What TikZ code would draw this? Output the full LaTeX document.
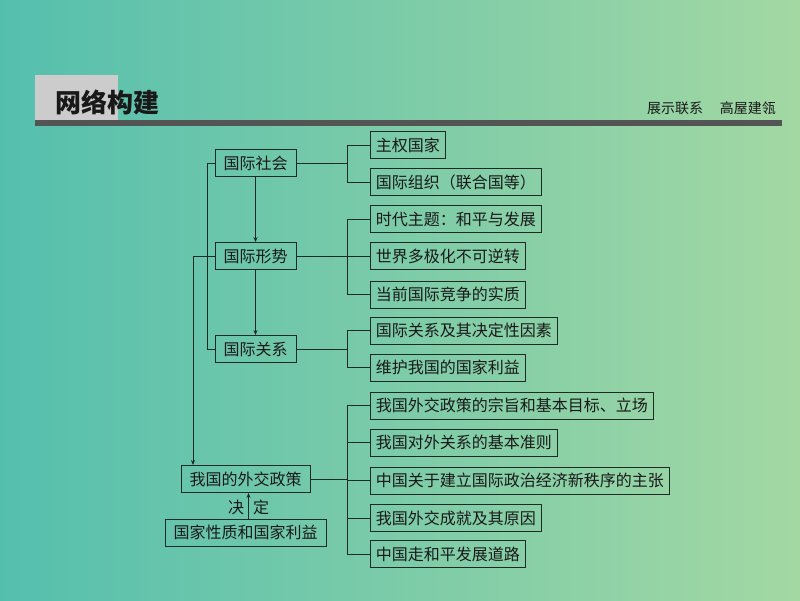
\documentclass[tikz,border=0pt]{standalone}
\usepackage{fontspec}
\newfontfamily\cjk{Noto Sans CJK SC}
\usetikzlibrary{arrows.meta}
\definecolor{bgl}{HTML}{55BFAE}
\definecolor{bgr}{HTML}{A3D8A3}
\definecolor{lnc}{HTML}{1E2A26}
\begin{document}
\begin{tikzpicture}[x=1pt,y=-1pt,
  lbox/.style={draw=lnc, line width=0.9pt, inner xsep=8.5pt, inner ysep=0pt, minimum height=27pt, font=\cjk\fontsize{16}{16}\selectfont, text=black!90},
  rbox/.style={draw=lnc, line width=0.9pt, inner xsep=5.5pt, inner ysep=0pt, minimum height=27pt, anchor=west, font=\cjk\fontsize{16}{16}\selectfont, text=black!90},
  conn/.style={draw=lnc, line width=0.8pt},
  arr/.style={conn, -{Stealth[length=5pt,width=4pt]}},
  lbl/.style={font=\cjk\fontsize{16}{16}\selectfont, text=black!90, inner sep=0pt}]
\useasboundingbox (0,0) rectangle (800,600);
\shade[left color=bgl, right color=bgr] (0,0) rectangle (800,600);
% header
\fill[black!20] (35,75) rectangle (118,120);
\fill[black!67] (35,120) rectangle (782,126);
\node[anchor=west, inner sep=0pt, font=\cjk\bfseries\fontsize{26}{26}\selectfont, text=black!90] (title) at (55,102) {网络构建};
\node[anchor=east, inner sep=0pt, font=\cjk\fontsize{14}{14}\selectfont, text=black!90] (sub) at (776,108) {展示联系\hspace{1.2em}高屋建瓴};
% left nodes
\node[lbox] (a) at (255.5,163) {国际社会};
\node[lbox] (b) at (255.5,256) {国际形势};
\node[lbox] (c) at (255.5,349) {国际关系};
\node[lbox] (d) at (245.5,479) {我国的外交政策};
\node[lbox] (e) at (245.5,532.5) {国家性质和国家利益};
\node[lbl] (j1) at (236,507) {决};
\node[lbl] (j2) at (261,507) {定};
% right nodes
\node[rbox] (a1) at (370,145) {主权国家};
\node[rbox] (a2) at (370,182) {国际组织（联合国等）};
\node[rbox] (b1) at (370,219) {时代主题：和平与发展};
\node[rbox] (b2) at (370,256) {世界多极化不可逆转};
\node[rbox] (b3) at (370,294.5) {当前国际竞争的实质};
\node[rbox] (c1) at (370,330.5) {国际关系及其决定性因素};
\node[rbox] (c2) at (370,367.5) {维护我国的国家利益};
\node[rbox] (d1) at (370,405.5) {我国外交政策的宗旨和基本目标、立场};
\node[rbox] (d2) at (370,442.5) {我国对外关系的基本准则};
\node[rbox] (d3) at (370,480.5) {中国关于建立国际政治经济新秩序的主张};
\node[rbox] (d4) at (370,518) {我国外交成就及其原因};
\node[rbox] (d5) at (370,554) {中国走和平发展道路};
\coordinate (bx) at (347,0);
\coordinate (lx1) at (207,0);
\coordinate (lx2) at (193,0);
% brackets
\draw[conn] (a.east) -- (bx |- a.east);
\draw[conn] (a1.west) -- (bx |- a1.west) -- (bx |- a2.west) -- (a2.west);
\draw[conn] (b.east) -- (bx |- b.east);
\draw[conn] (b2.west) -- (bx |- b2.west);
\draw[conn] (b1.west) -- (bx |- b1.west) -- (bx |- b3.west) -- (b3.west);
\draw[conn] (c.east) -- (bx |- c.east);
\draw[conn] (c1.west) -- (bx |- c1.west) -- (bx |- c2.west) -- (c2.west);
\draw[conn] (d.east) -- (bx |- d.east);
\draw[conn] (d1.west) -- (bx |- d1.west) -- (bx |- d5.west) -- (d5.west);
\draw[conn] (d2.west) -- (bx |- d2.west);
\draw[conn] (d3.west) -- (bx |- d3.west);
\draw[conn] (d4.west) -- (bx |- d4.west);
% left links
\draw[arr] (a.south) -- (b.north);
\draw[arr] (b.south) -- (c.north);
\draw[conn] (a.west) -- (lx1 |- a.west) -- (lx1 |- c.west) -- (c.west);
\draw[arr] (b.west) -- (lx2 |- b.west) -- (lx2 |- d.north);
\draw[arr] ([xshift=3pt]e.north) -- ([xshift=3pt]e.north |- d.south);
\end{tikzpicture}
\end{document}
